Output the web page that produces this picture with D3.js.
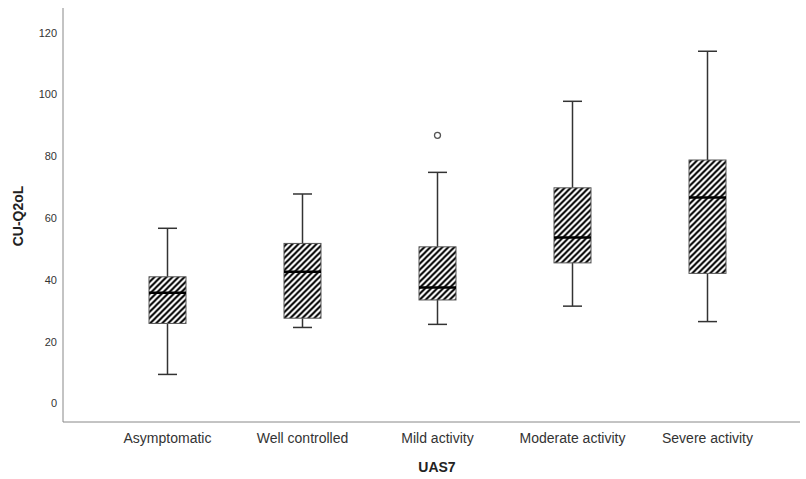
<!DOCTYPE html>
<html lang="en">
<head>
<meta charset="UTF-8">
<title>CU-Q2oL by UAS7</title>
<script src="https://d3js.org/d3.v7.min.js"></script>
<style>
  body { margin: 0; background: #fff; }
  text { font-family: "Liberation Sans", Arial, sans-serif; }
</style>
</head>
<body>
<div id="chart"></div>
<script>
// values
const categories = ["Asymptomatic", "Well controlled", "Mild activity", "Moderate activity", "Severe activity"];
const whiskerLow  = [9.4, 24.6, 25.6, 31.5, 26.5];
const q1          = [25.9, 27.6, 33.5, 45.5, 42.1];
const median      = [35.8, 42.6, 37.5, 53.7, 66.7];
const q3          = [41.0, 51.8, 50.7, 69.8, 78.8];
const whiskerHigh = [56.7, 67.8, 74.8, 97.8, 114.0];
const outliers    = [[], [], [86.8], [], []];
const yTicks = [0, 20, 40, 60, 80, 100, 120];

const W = 806, H = 479;
const axisX = 63, axisBottom = 422, axisTop = 8, axisRight = 800;

const svg = d3.select("#chart").append("svg")
    .attr("width", W)
    .attr("height", H);

// hatch pattern
const pat = svg.append("defs").append("pattern")
    .attr("id", "hatch")
    .attr("patternUnits", "userSpaceOnUse")
    .attr("width", 6)
    .attr("height", 6);
pat.append("rect").attr("width", 6).attr("height", 6).attr("fill", "#fff");
pat.append("path")
    .attr("d", "M0,6 L6,0 M-1,1 L1,-1 M5,7 L7,5")
    .attr("stroke", "#000")
    .attr("stroke-width", 2);

const x = d3.scaleBand()
    .domain(categories)
    .range([100, 775])
    .padding(0);

const y = d3.scaleLinear()
    .domain([-6, 128])
    .range([axisBottom, axisTop]);

const boxW = 37, capW = 19;

const data = categories.map((c, i) => ({
    cat: c,
    lo: whiskerLow[i], q1: q1[i], med: median[i], q3: q3[i], hi: whiskerHigh[i],
    out: outliers[i]
}));

const g = svg.selectAll("g.box")
    .data(data)
    .join("g")
    .attr("class", "box")
    .attr("transform", d => `translate(${x(d.cat) + x.bandwidth() / 2},0)`);

// whiskers
g.append("line")
    .attr("x1", 0).attr("x2", 0)
    .attr("y1", d => y(d.hi)).attr("y2", d => y(d.q3))
    .attr("stroke", "#333").attr("stroke-width", 1.5);
g.append("line")
    .attr("x1", 0).attr("x2", 0)
    .attr("y1", d => y(d.q1)).attr("y2", d => y(d.lo))
    .attr("stroke", "#333").attr("stroke-width", 1.5);
g.append("line")
    .attr("x1", -capW / 2).attr("x2", capW / 2)
    .attr("y1", d => y(d.hi)).attr("y2", d => y(d.hi))
    .attr("stroke", "#333").attr("stroke-width", 1.5);
g.append("line")
    .attr("x1", -capW / 2).attr("x2", capW / 2)
    .attr("y1", d => y(d.lo)).attr("y2", d => y(d.lo))
    .attr("stroke", "#333").attr("stroke-width", 1.5);

// boxes
g.append("rect")
    .attr("x", -boxW / 2)
    .attr("width", boxW)
    .attr("y", d => y(d.q3))
    .attr("height", d => y(d.q1) - y(d.q3))
    .attr("fill", "url(#hatch)")
    .attr("stroke", "#555")
    .attr("stroke-width", 1);

// median
g.append("line")
    .attr("x1", -boxW / 2).attr("x2", boxW / 2)
    .attr("y1", d => y(d.med)).attr("y2", d => y(d.med))
    .attr("stroke", "#000").attr("stroke-width", 2.5);

// outliers
g.selectAll("circle")
    .data(d => d.out)
    .join("circle")
    .attr("cx", 0)
    .attr("cy", v => y(v))
    .attr("r", 3)
    .attr("fill", "#fff")
    .attr("stroke", "#555")
    .attr("stroke-width", 1.3);

// axes lines
svg.append("line")
    .attr("x1", axisX).attr("x2", axisX)
    .attr("y1", axisTop).attr("y2", axisBottom)
    .attr("stroke", "#888");
svg.append("line")
    .attr("x1", axisX).attr("x2", axisRight)
    .attr("y1", axisBottom).attr("y2", axisBottom)
    .attr("stroke", "#888");

// y tick labels
svg.selectAll("text.ytick")
    .data(yTicks)
    .join("text")
    .attr("class", "ytick")
    .attr("x", 57)
    .attr("y", d => y(d))
    .attr("dy", "0.35em")
    .attr("text-anchor", "end")
    .attr("font-size", 11)
    .attr("fill", "#333")
    .text(d => d);

// x category labels
svg.selectAll("text.xtick")
    .data(categories)
    .join("text")
    .attr("class", "xtick")
    .attr("x", d => x(d) + x.bandwidth() / 2)
    .attr("y", 443)
    .attr("text-anchor", "middle")
    .attr("font-size", 14)
    .attr("fill", "#333")
    .text(d => d);

// axis titles
svg.append("text")
    .attr("x", 437)
    .attr("y", 472)
    .attr("text-anchor", "middle")
    .attr("font-size", 14)
    .attr("font-weight", "bold")
    .attr("fill", "#222")
    .text("UAS7");

svg.append("text")
    .attr("transform", "translate(23,216) rotate(-90)")
    .attr("text-anchor", "middle")
    .attr("font-size", 14)
    .attr("font-weight", "bold")
    .attr("fill", "#222")
    .text("CU-Q2oL");
</script>
</body>
</html>
